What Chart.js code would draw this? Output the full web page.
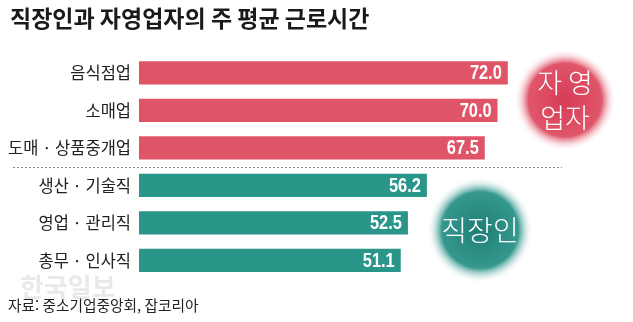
<!DOCTYPE html>
<html lang="ko">
<head>
<meta charset="utf-8">
<script src="https://cdn.jsdelivr.net/npm/chart.js@4"></script>
<style>
  html, body { margin: 0; padding: 0; background: #fff; }
  #wrap { width: 633px; height: 322px; }
</style>
</head>
<body>
<div id="wrap"><canvas id="myChart" width="633" height="322"></canvas></div>
<script>
const categories = ['음식점업', '소매업', '도매 · 상품중개업', '생산 · 기술직', '영업 · 관리직', '총무 · 인사직'];
const hours = [72.0, 70.0, 67.5, 56.2, 52.5, 51.1];
const groups = ['self', 'self', 'self', 'worker', 'worker', 'worker'];

const titleText = '직장인과 자영업자의 주 평균 근로시간';
const sourceText = '자료: 중소기업중앙회, 잡코리아';

const pink = '#e05467';
const teal = '#2a9589';
const KR = '"Noto Sans CJK KR", "Noto Sans", sans-serif';

const barColors = groups.map(g => g === 'self' ? pink : teal);

// soft round badge with a blurred edge
function badge(ctx, x, y, r, inner, outer, lines, size) {
    let grad = ctx.createRadialGradient(x, y, 0, x, y, r);
    grad.addColorStop(0, inner);
    grad.addColorStop(0.72, outer);
    grad.addColorStop(1, 'rgba(255,255,255,0)');
    ctx.save();
    ctx.fillStyle = grad;
    ctx.beginPath();
    ctx.arc(x, y, r, 0, Math.PI * 2);
    ctx.fill();
    ctx.fillStyle = '#fff';
    ctx.font = '300 ' + size + 'px ' + KR;
    ctx.textAlign = 'center';
    ctx.textBaseline = 'middle';
    let lh = size * 1.3;
    let y0 = y - (lines.length - 1) * lh / 2;
    lines.forEach((t, i) => ctx.fillText(t, x, y0 + i * lh));
    ctx.restore();
}

const extras = {
    id: 'extras',
    afterDatasetsDraw(chart) {
        const ctx = chart.ctx;
        const meta = chart.getDatasetMeta(0);
        const yScale = chart.scales.y;

        // values inside the bar ends, squeezed a bit
        ctx.save();
        ctx.fillStyle = '#fff';
        ctx.font = 'bold 20px "Liberation Sans", sans-serif';
        ctx.textAlign = 'right';
        ctx.textBaseline = 'middle';
        meta.data.forEach((bar, i) => {
            ctx.save();
            ctx.translate(bar.x - 6, bar.y + 1);
            ctx.scale(0.82, 1);
            ctx.fillText(hours[i].toFixed(1), 0, 0);
            ctx.restore();
        });
        ctx.restore();

        // dotted divider between the two groups
        let yd = Math.round((yScale.getPixelForValue(2) + yScale.getPixelForValue(3)) / 2) + 0.5;
        ctx.save();
        ctx.strokeStyle = '#8a8a8a';
        ctx.lineWidth = 1;
        ctx.setLineDash([2, 2]);
        ctx.beginPath();
        ctx.moveTo(13, yd);
        ctx.lineTo(562, yd);
        ctx.stroke();
        ctx.restore();

        badge(ctx, 565, 100, 51, '#d63c56', 'rgba(222,76,98,0.95)', ['자 영', '업자'], 27);
        badge(ctx, 480, 230, 53, '#1d7e76', 'rgba(42,146,136,0.95)', ['직장인'], 28);

        // title, source and faint mark
        ctx.save();
        ctx.textBaseline = 'alphabetic';
        ctx.textAlign = 'left';
        ctx.fillStyle = 'rgba(200,200,200,0.4)';
        ctx.font = 'bold 26px ' + KR;
        ctx.fillText('한국일보', 20, 297);
        ctx.fillStyle = '#1a1a1a';
        ctx.font = 'bold 23px ' + KR;
        ctx.fillText(titleText, 10, 27);
        ctx.fillStyle = '#222';
        ctx.font = '14.7px ' + KR;
        ctx.fillText(sourceText, 8, 311);
        ctx.restore();
    }
};

new Chart(document.getElementById('myChart'), {
    type: 'bar',
    data: {
        labels: categories,
        datasets: [{
            data: hours,
            backgroundColor: barColors,
            borderWidth: 0,
            barPercentage: 0.62,
            categoryPercentage: 1
        }]
    },
    options: {
        indexAxis: 'y',
        responsive: false,
        animation: false,
        devicePixelRatio: 1,
        layout: { padding: { left: 0, top: 54, right: 33, bottom: 43 } },
        plugins: {
            legend: { display: false },
            tooltip: { enabled: false }
        },
        scales: {
            x: { display: false, min: 0, max: 90 },
            y: {
                grid: { display: false, drawTicks: false },
                border: { display: false },
                ticks: {
                    color: '#222',
                    font: { family: KR, size: 16.5 },
                    padding: 8
                },
                afterFit(scale) { scale.width = 139; }
            }
        }
    },
    plugins: [extras]
});
</script>
</body>
</html>
